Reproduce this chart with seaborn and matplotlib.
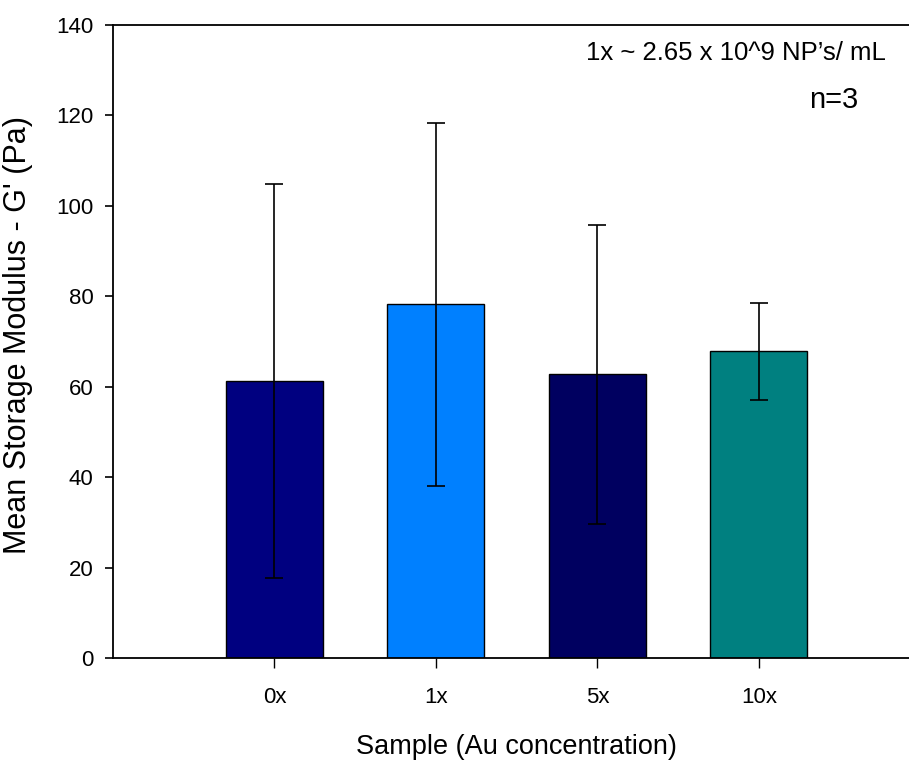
import pandas as pd
import seaborn as sns
import matplotlib.pyplot as plt

# values
samples = ["0x", "1x", "5x", "10x"]
mean_modulus = [61.3, 78.2, 62.7, 67.8]
error = [43.6, 40.2, 33.1, 10.8]
bar_colors = ["#000080", "#0080ff", "#000060", "#008080"]

df = pd.DataFrame({"Sample": samples, "G": mean_modulus, "err": error})

sns.set_style("ticks")
plt.rcParams["font.family"] = ["Liberation Sans", "DejaVu Sans"]
plt.rcParams["text.color"] = "black"
plt.rcParams["axes.labelcolor"] = "black"
plt.rcParams["xtick.color"] = "black"
plt.rcParams["ytick.color"] = "black"

fig = plt.figure(figsize=(9.09, 7.62), dpi=100)
ax = fig.add_axes([0.1243, 0.1365, 0.8757, 0.8307])

sns.barplot(data=df, x="Sample", y="G", hue="Sample", palette=bar_colors,
            order=samples, width=0.6, edgecolor="black", linewidth=1,
            saturation=1, legend=False, ax=ax)
ax.errorbar(x=range(len(samples)), y=df["G"], yerr=df["err"], fmt="none",
            ecolor="black", elinewidth=1.2, capsize=6.4, capthick=1.2)

ax.set_xlim(-1, 3.93)
ax.set_ylim(0, 140)
ax.set_yticks(range(0, 141, 20))

ax.spines["right"].set_visible(False)
for s in ["left", "bottom", "top"]:
    ax.spines[s].set_linewidth(1.3)
    ax.spines[s].set_color("black")

ax.tick_params(axis="y", direction="out", length=6, width=1.2, labelsize=16, pad=8)
ax.tick_params(axis="x", direction="out", length=7, width=1, labelsize=16, pad=14)

ax.set_xlabel("Sample (Au concentration)", fontsize=19.5)
ax.set_ylabel("Mean Storage Modulus - G' (Pa)", fontsize=22)
ax.xaxis.set_label_coords(0.507, -0.12)
ax.yaxis.set_label_coords(-0.1, 0.51)

ax.text(0.783, 0.955, "1x ~ 2.65 x 10^9 NP\u2019s/ mL", transform=ax.transAxes,
        ha="center", va="center", fontsize=18.5)
ax.text(0.905, 0.882, "n=3", transform=ax.transAxes,
        ha="center", va="center", fontsize=21)

plt.savefig("out.png", dpi=100)
